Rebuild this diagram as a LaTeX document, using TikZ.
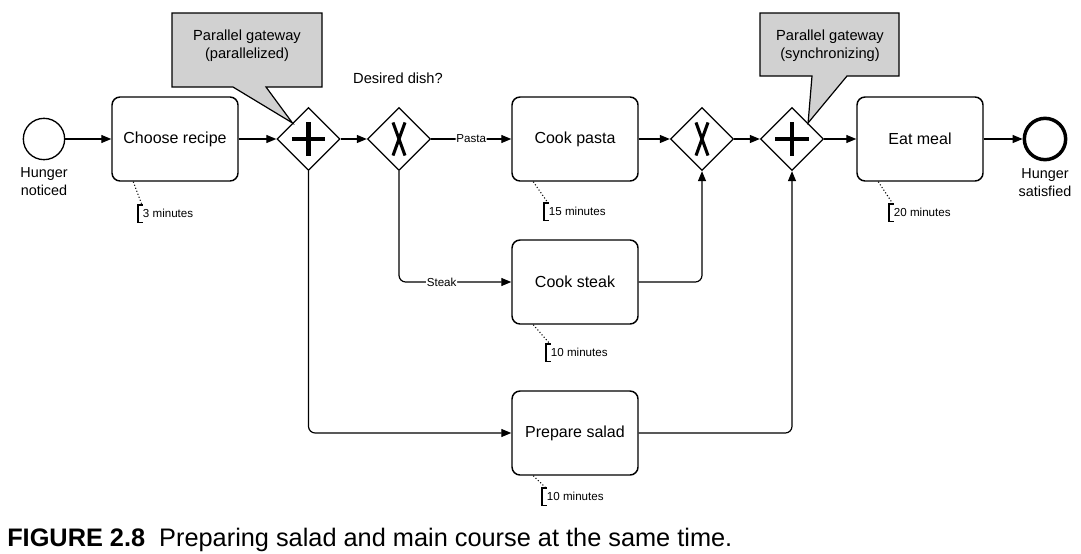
\documentclass[tikz,border=0pt]{standalone}
\usepackage{fontspec}
\setmainfont{Liberation Sans}
\usetikzlibrary{arrows.meta,shapes.geometric,positioning}

\tikzset{
  flow/.style={-{Triangle[length=7.5pt,width=6pt]}, line width=0.9pt, rounded corners=5pt},
  task/.style={draw, line width=1.1pt, rounded corners=6pt, minimum width=94.5pt, minimum height=63pt,
    font=\fontsize{12}{14}\selectfont},
  gw/.style={draw, diamond, line width=1pt, minimum width=47.25pt, minimum height=47.25pt, inner sep=0pt},
  pgw/.style={gw, path picture={
    \draw[line width=3.6pt] ([xshift=-12.4pt]path picture bounding box.center) -- ([xshift=12.4pt]path picture bounding box.center);
    \draw[line width=3.6pt] ([yshift=-12.4pt]path picture bounding box.center) -- ([yshift=12.4pt]path picture bounding box.center);}},
  xgw/.style={gw, path picture={
    \draw[line width=2.3pt] ([xshift=-4.5pt,yshift=12.4pt]path picture bounding box.center) -- ([xshift=4.5pt,yshift=-12.4pt]path picture bounding box.center);
    \draw[line width=2.3pt] ([xshift=4.5pt,yshift=12.4pt]path picture bounding box.center) -- ([xshift=-4.5pt,yshift=-12.4pt]path picture bounding box.center);}},
  startev/.style={draw, circle, line width=1pt, minimum size=31pt, inner sep=0pt},
  endev/.style={draw, circle, line width=2.6pt, minimum size=31pt, inner sep=0pt},
  evlabel/.style={align=center, font=\fontsize{10.8}{13.5}\selectfont},
  callout/.style={draw, line width=0.9pt, fill=black!18},
  calltext/.style={align=center, font=\fontsize{11}{13.5}\selectfont},
  lbl/.style={fill=white, inner sep=0.5pt, font=\fontsize{8.7}{10}\selectfont},
  annot/.style={anchor=north west, inner xsep=3.5pt, inner ysep=2.4pt, text height=6.5pt, text depth=1.5pt,
    font=\fontsize{8.7}{10}\selectfont},
  assoc/.style={line width=0.8pt, dash pattern=on 0.8pt off 1.6pt}
}

\begin{document}
\begin{tikzpicture}[x=0.75pt,y=-0.75pt]
  \useasboundingbox (0,0) rectangle (1081,553);

  % main row
  \node[startev] (start) at (44,139) {};
  \node[evlabel, below=2pt of start] (startlbl) {Hunger\\noticed};
  \node[task] (choose) at (175,139) {Choose recipe};
  \node[pgw] (pg1) at (308.5,139) {};
  \node[xgw] (xg1) at (399,139) {};
  \node[font=\fontsize{11}{13}\selectfont] (dish) at (398,78) {Desired dish?};
  \node[task] (pasta) at (575,139) {Cook pasta};
  \node[task] (steak) at (575,282) {Cook steak};
  \node[task] (salad) at (575,433) {Prepare salad};
  \node[xgw] (xg2) at (702,139) {};
  \node[pgw] (pg2) at (792,139) {};
  \node[task] (eat) at (920,139) {Eat meal};
  \node[endev] (end) at (1045,139) {};
  \node[evlabel, below=2pt of end] (endlbl) {Hunger\\satisfied};

  % sequence flows
  \draw[flow] (start) -- (choose);
  \draw[flow] (choose) -- (pg1);
  \draw[flow] (pg1) -- (xg1);
  \draw[flow] (xg1) -- node[lbl] {Pasta} (pasta);
  \draw[flow] (xg1.south) |- node[lbl, pos=0.69] {Steak} (steak.west);
  \draw[flow] (pg1.south) |- (salad.west);
  \draw[flow] (pasta) -- (xg2);
  \draw[flow] (steak.east) -| (xg2.south);
  \draw[flow] (xg2) -- (pg2);
  \draw[flow] (salad.east) -| (pg2.south);
  \draw[flow] (pg2) -- (eat);
  \draw[flow] (eat) -- (end);

  % callouts
  \draw[callout] (172,13) -- (322,13) -- (322,87) -- (266,87) -- (pg1.north west) -- (233,87) -- (172,87) -- cycle;
  \node[calltext] (call1) at (247,46) {Parallel gateway\\(parallelized)};
  \draw[callout] (760,13) -- (899,13) -- (899,76) -- (847,76) -- (pg2.north east) -- (812,76) -- (760,76) -- cycle;
  \node[calltext] (call2) at (830,46) {Parallel gateway\\(synchronizing)};

  % durations
  \foreach \b/\p/\t in {choose/{138,205}/3, pasta/{544,203}/15, steak/{546,344}/10, salad/{542,488}/10, eat/{889,204}/20} {
    \node[annot] (n\b) at (\p) {\t\ minutes};
    \draw[assoc] ([xshift=16.5pt]\b.south west) -- ([xshift=3pt]n\b.north west);
    \draw[line width=0.8pt] ([xshift=3.5pt]n\b.north west) -- (n\b.north west) -- (n\b.south west) -- ([xshift=3.5pt]n\b.south west);
  }

  \node[anchor=base west, inner sep=0pt, font=\fontsize{19}{22}\selectfont] (caption) at (7,546)
    {\textbf{FIGURE 2.8}\hspace{10.5pt}Preparing salad and main course at the same time.};
\end{tikzpicture}
\end{document}
